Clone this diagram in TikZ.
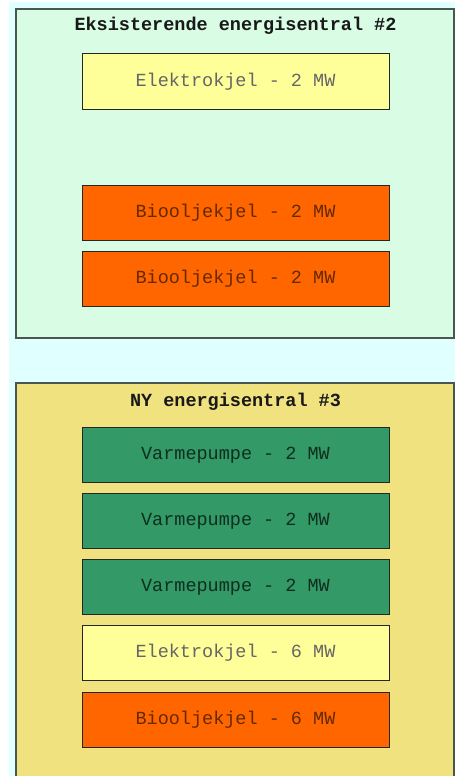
\documentclass[tikz,border=0pt]{standalone}
\usepackage{fontspec}
\setmonofont{Liberation Mono}
\definecolor{pagebg}{HTML}{E0FFFF}
\definecolor{oldfill}{HTML}{D8FCE4}
\definecolor{newfill}{HTML}{F0E27E}
\definecolor{framecol}{HTML}{4A5750}
\definecolor{elfill}{HTML}{FFFF99}
\definecolor{biofill}{HTML}{FF6600}
\definecolor{hpfill}{HTML}{339966}
\tikzset{
  plant/.style={draw=framecol, line width=1.6pt},
  unitbox/.style={draw=black!85, line width=1pt, minimum width=307pt, minimum height=55pt,
    inner sep=0pt, font=\fontsize{18.5}{20}\selectfont\ttfamily},
  elunit/.style={unitbox, fill=elfill, text=black!60},
  biounit/.style={unitbox, fill=biofill, text=black!60!biofill},
  hpunit/.style={unitbox, fill=hpfill, text=black!70!hpfill},
  plantitle/.style={font=\fontsize{18.5}{20}\selectfont\ttfamily\bfseries, text=black!90}
}
\begin{document}
\begin{tikzpicture}[x=1pt,y=-1pt]
  \useasboundingbox (0,0) rectangle (455,776);
  \fill[white] (0,0) rectangle (455,776);
  \fill[pagebg] (9,2) rectangle (455,776);

  % Existing plant #2
  \draw[plant, fill=oldfill] (16,9) rectangle (454,338);
  \node[plantitle] (t2) at (235.5,26) {Eksisterende energisentral \#2};
  \node[elunit]  (e2)  at (235.5,81.5)  {Elektrokjel - 2 MW};
  \node[biounit] (b2a) at (235.5,213) {Biooljekjel - 2 MW};
  \node[biounit] (b2b) at (235.5,279) {Biooljekjel - 2 MW};

  % New plant #3
  \draw[plant, fill=newfill] (16,383) rectangle (454,790);
  \node[plantitle] (t3) at (235.5,402) {NY energisentral \#3};
  \node[hpunit]  (h1) at (235.5,455) {Varmepumpe - 2 MW};
  \node[hpunit]  (h2) at (235.5,521) {Varmepumpe - 2 MW};
  \node[hpunit]  (h3) at (235.5,587) {Varmepumpe - 2 MW};
  \node[elunit]  (e6) at (235.5,653) {Elektrokjel - 6 MW};
  \node[biounit] (b6) at (235.5,719.5) {Biooljekjel - 6 MW};
\end{tikzpicture}
\end{document}
